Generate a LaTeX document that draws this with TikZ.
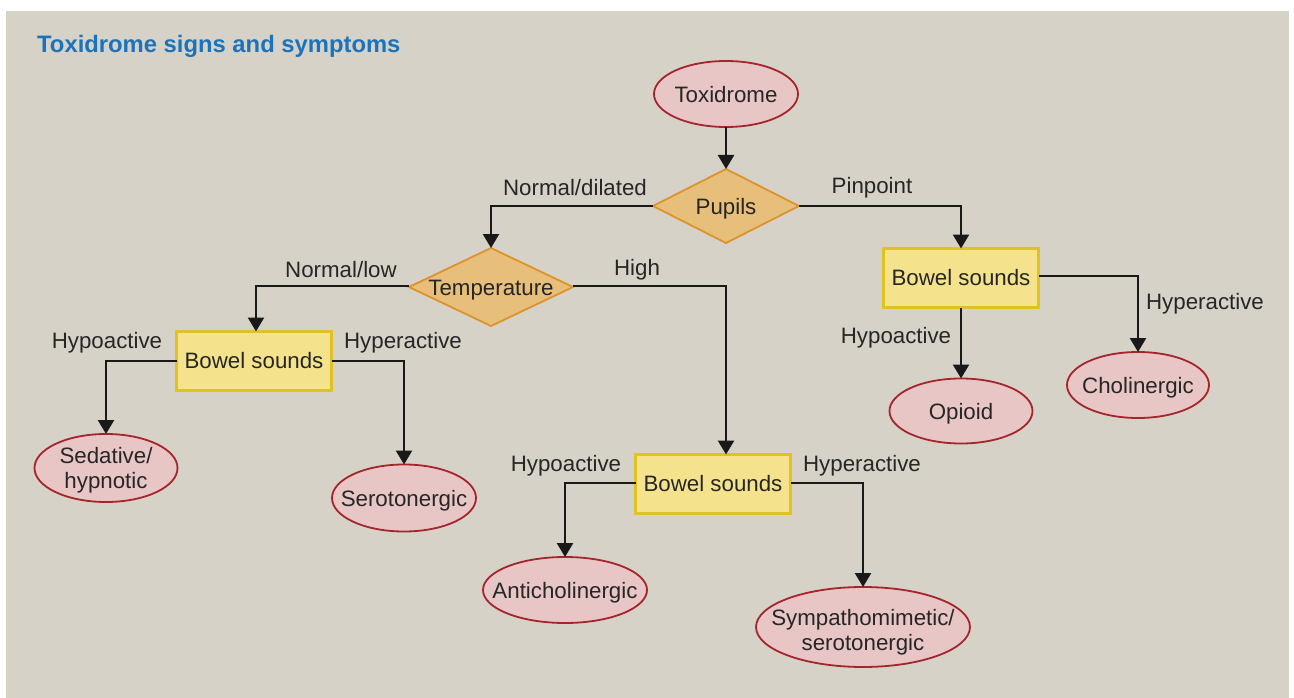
\documentclass[tikz,border=0pt]{standalone}
\usepackage{fontspec}
\setmainfont{Liberation Sans}
\usetikzlibrary{shapes.geometric,arrows.meta}
\definecolor{bgc}{HTML}{D6D2C8}
\definecolor{elfill}{HTML}{E8C6C6}
\definecolor{eldraw}{HTML}{A5252B}
\definecolor{dmfill}{HTML}{E8BF7A}
\definecolor{dmdraw}{HTML}{DE922C}
\definecolor{bxfill}{HTML}{F4E38C}
\definecolor{bxdraw}{HTML}{E0C222}
\definecolor{titlec}{HTML}{1B74BB}
\definecolor{txt}{HTML}{262626}
\newcommand{\zw}[2][-8.5pt]{\raisebox{#1}[0pt][0pt]{\makebox[0pt][c]{\begin{tabular}{@{}c@{}}#2\end{tabular}}}}
\tikzset{
  base/.style={font=\fontsize{22.3}{25}\selectfont, text=txt, inner sep=0pt, outer sep=0pt},
  oval/.style={base, ellipse, fill=elfill, draw=eldraw, line width=1.8pt},
  decision/.style={base, diamond, fill=dmfill, draw=dmdraw, line width=1.8pt},
  boxnode/.style={base, rectangle, fill=bxfill, draw=bxdraw, line width=2.6pt, minimum width=155pt, minimum height=59pt},
  lbl/.style={font=\fontsize{22.3}{25}\selectfont, text=txt, inner sep=0pt},
  conn/.style={line width=2.5pt, black!90, -{Triangle[width=16pt,length=14pt]}}
}
\begin{document}
\begin{tikzpicture}[x=1pt,y=-1pt]
\useasboundingbox (0,0) rectangle (1294,698);
\fill[white] (0,0) rectangle (1294,698);
\fill[bgc] (6,11) rectangle (1289,698);
\node[anchor=west, font=\fontsize{23.8}{27}\selectfont\bfseries, text=titlec, inner sep=0pt] (title) at (37,46) {Toxidrome signs and symptoms};

\node[oval, minimum width=144pt, minimum height=66pt] (tox) at (726,94) {\zw{Toxidrome}};
\node[decision, minimum width=146pt, minimum height=74pt] (pup) at (726,206) {\zw{Pupils}};
\node[decision, minimum width=164pt, minimum height=78pt] (temp) at (491,287) {\zw{Temperature}};
\node[boxnode] (bl) at (254,361) {Bowel sounds};
\node[boxnode] (br) at (961,278) {Bowel sounds};
\node[boxnode] (bm) at (713,484) {Bowel sounds};
\node[oval, minimum width=143pt, minimum height=68pt] (sed) at (106,468) {\zw{Sedative/\\hypnotic}};
\node[oval, minimum width=144pt, minimum height=67pt] (ser) at (404,498) {\zw{Serotonergic}};
\node[oval, minimum width=164pt, minimum height=66pt] (anti) at (565,590) {\zw{Anticholinergic}};
\node[oval, minimum width=214pt, minimum height=80pt] (symp) at (863,627) {\zw[-11.5pt]{Sympathomimetic/\\serotonergic}};
\node[oval, minimum width=143pt, minimum height=65pt] (opi) at (961,411) {\zw{Opioid}};
\node[oval, minimum width=142pt, minimum height=66pt] (chol) at (1138,385) {\zw{Cholinergic}};

\draw[conn] (tox) -- (pup);
\draw[conn] (pup.west) -| (temp.north);
\draw[conn] (pup.east) -| (br.north);
\draw[conn] ([yshift=1pt]temp.west) -| ([xshift=2pt]bl.north);
\draw[conn] ([yshift=1pt]temp.east) -| ([xshift=13pt]bm.north);
\draw[conn] (bl.west) -| (sed.north);
\draw[conn] (bl.east) -| (ser.north);
\draw[conn] ([yshift=1pt]bm.west) -| (anti.north);
\draw[conn] ([yshift=1pt]bm.east) -| (symp.north);
\draw[conn] (br.south) -- (opi.north);
\draw[conn] ([yshift=2pt]br.east) -| (chol.north);

\node[lbl] (l1) at (575,188) {Normal/dilated};
\node[lbl] (l2) at (872,188) {Pinpoint};
\node[lbl] (l3) at (341,270) {Normal/low};
\node[lbl] (l4) at (637,270) {High};
\node[lbl] (l5) at (107,343) {Hypoactive};
\node[lbl] (l6) at (403,343) {Hyperactive};
\node[lbl] (l7) at (566,466) {Hypoactive};
\node[lbl] (l8) at (862,466) {Hyperactive};
\node[lbl] (l9) at (896,338) {Hypoactive};
\node[lbl] (l10) at (1205,304) {Hyperactive};
\end{tikzpicture}
\end{document}
